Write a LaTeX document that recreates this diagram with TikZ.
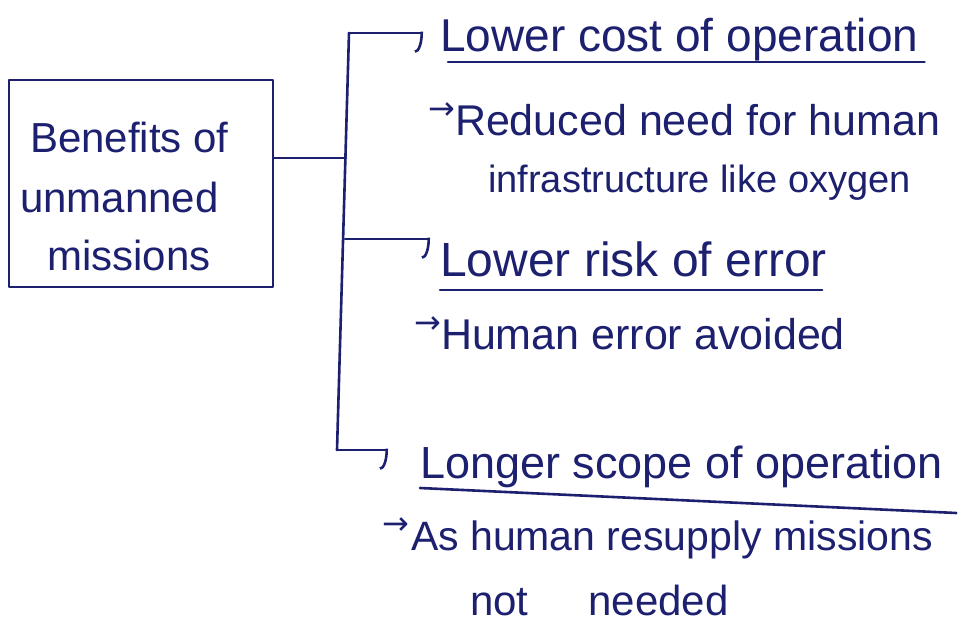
\documentclass[tikz,border=0pt]{standalone}
\usepackage{fontspec}
\setmainfont{Liberation Sans}
\newfontfamily\arrowfont{DejaVu Sans}
\usetikzlibrary{arrows.meta,calc}
\definecolor{ink}{RGB}{28,32,110}
% font size helper and the small lead-in arrow of the sub-points
\newcommand\inksize[1]{\fontsize{#1}{#1}\selectfont}
\newcommand\pointer{{\arrowfont\fontsize{32}{32}\selectfont\raisebox{16pt}{→}}}
\begin{document}
\begin{tikzpicture}[x=1pt,y=-1pt,
  inkline/.style={draw=ink, line width=2.6pt, line cap=round, line join=round},
  branch/.style={inkline, -{Arc Barb[right, length=8pt, width=40pt, line width=2.6pt]}},
  txt/.style={inner sep=0pt, anchor=base west, text=ink},
  titlebox/.style={inkline, inner sep=0pt, minimum width=264pt, minimum height=207pt},
]
\useasboundingbox[fill=white] (0,0) rectangle (960,628);

% central box with its title
\node[titlebox] (box) at (141,183.5) {};
\node[txt, font=\inksize{42}] (t1) at (30,153) {Benefits of};
\node[txt, font=\inksize{42}] (t2) at (20,213) {unmanned};
\node[txt, font=\inksize{42}] (t3) at (47,270) {missions};

% branch headings and their sub-points
\node[txt, font=\inksize{46}] (h1) at (440,52) {Lower cost of operation};
\node[txt, font=\inksize{43}] (s1) at (428,136) {\pointer Reduced need for human};
\node[txt, font=\inksize{38}] (s1b) at (488,193) {infrastructure like oxygen};

\node[txt, font=\inksize{48}] (h2) at (440,276) {Lower risk of error};
\node[txt, font=\inksize{43}] (s2) at (414,349) {\pointer Human error avoided};

\node[txt, font=\inksize{45}] (h3) at (420,478) {Longer scope of operation};
\node[txt, font=\inksize{41}] (s3) at (382,550) {\pointer\hspace{2pt}As human resupply missions};
\node[txt, font=\inksize{42}] (s3b) at (470,615) {not\hspace{60pt}needed};

% underlines of the headings
\draw[inkline] ([shift={(8,10)}]h1.base west) -- ([shift={(6,10)}]h1.base east);
\draw[inkline] ([shift={(0,14)}]h2.base west) -- ([shift={(-5,14)}]h2.base east);
\draw[inkline] ([shift={(0,10)}]h3.base west) -- ([shift={(13,35)}]h3.base east);

% trunk and branches
\coordinate (trunkTop) at (349,33);
\coordinate (joint) at (346,158);
\coordinate (mid) at (345,239);
\coordinate (trunkBot) at (337,450);
\draw[inkline] (trunkTop) -- (trunkBot);
\draw[inkline] (box.east |- joint) -- (joint);
\draw[branch, shorten >=17pt] (trunkTop) -- (trunkTop -| h1.west);
\draw[branch, shorten >=10pt] (mid) -- (mid -| h2.west);
\draw[branch, shorten >=32pt] (trunkBot) -- (trunkBot -| h3.west);
\end{tikzpicture}
\end{document}
